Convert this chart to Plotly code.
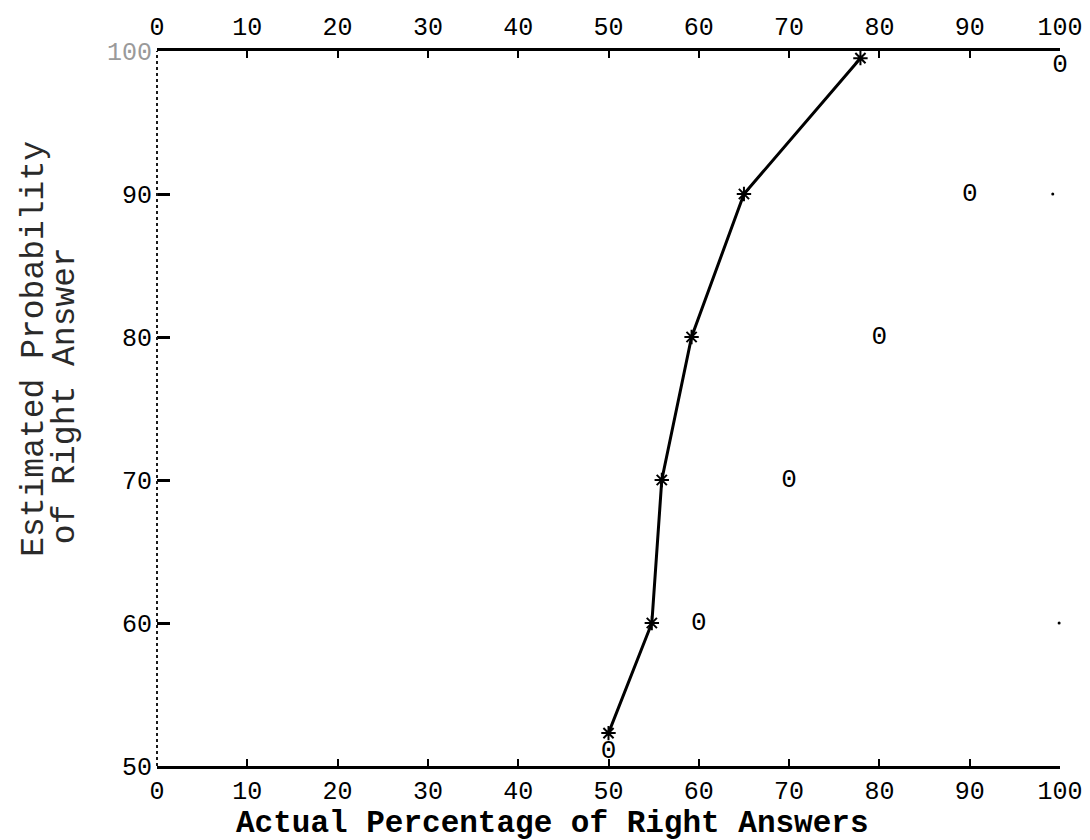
import plotly.graph_objects as go

# ---- data ----
x_ticks = [0, 10, 20, 30, 40, 50, 60, 70, 80, 90, 100]
x_tick_labels = ["0", "10", "20", "30", "40", "50", "60", "70", "80", "90", "100"]
y_ticks = [50, 60, 70, 80, 90, 100]
y_tick_labels = ["50", "60", "70", "80", "90", "<span style='color:#9a9a9a'>100</span>"]

# observed calibration curve (asterisks joined by a line)
actual_pct = [50, 54.8, 55.9, 59.2, 65.0, 77.9]
estimated_prob = [52.3, 60, 70, 80, 90, 99.5]

# perfect-calibration reference points (typed "0")
ideal_x = [50, 60, 70, 80, 90, 100]
ideal_y = [51, 60, 70, 80, 90, 99]

# stray typed periods at the right edge
dot_x = [99.2, 100.3, 99.9]
dot_y = [90, 80, 60]

FONT = "Liberation Mono"

fig = go.Figure()

fig.add_trace(go.Scatter(
    x=actual_pct, y=estimated_prob, mode="lines+markers",
    line=dict(color="black", width=3),
    marker=dict(symbol="asterisk-open", size=12, color="black",
                line=dict(color="black", width=2)),
    cliponaxis=False, showlegend=False,
))

fig.add_trace(go.Scatter(
    x=ideal_x, y=ideal_y, mode="text", text=["0"] * len(ideal_x),
    textfont=dict(family=FONT, size=26, color="black"),
    cliponaxis=False, showlegend=False,
))

fig.add_trace(go.Scatter(
    x=dot_x, y=dot_y, mode="markers",
    marker=dict(symbol="circle", size=3, color="black"),
    cliponaxis=False, showlegend=False,
))

# dummy trace for the top axis
fig.add_trace(go.Scatter(x=[0, 100], y=[100, 100], xaxis="x2", mode="lines",
                         line=dict(color="rgba(0,0,0,0)"), showlegend=False,
                         hoverinfo="skip"))

tickfont = dict(family=FONT, size=25, color="black")

fig.update_layout(
    width=1090, height=840,
    paper_bgcolor="white", plot_bgcolor="white",
    margin=dict(l=149, r=38, t=43, b=82),
    font=dict(family=FONT, color="black"),
    xaxis=dict(
        range=[0, 100], tickvals=x_ticks, ticktext=x_tick_labels,
        ticks="inside", ticklen=7, tickwidth=2, tickcolor="black",
        showline=True, linecolor="black", linewidth=3,
        showgrid=False, zeroline=False, tickfont=tickfont,
        automargin=False, mirror=False,
    ),
    xaxis2=dict(
        range=[0, 100], tickvals=x_ticks, ticktext=x_tick_labels,
        overlaying="x", side="top", anchor="y",
        ticks="inside", ticklen=7, tickwidth=2, tickcolor="black",
        showline=True, linecolor="black", linewidth=3,
        showgrid=False, zeroline=False, tickfont=tickfont,
        automargin=False, ticklabelstandoff=3,
    ),
    yaxis=dict(
        range=[50, 100], tickvals=y_ticks, ticktext=y_tick_labels,
        ticks="inside", ticklen=13, tickwidth=3, tickcolor="black",
        showline=False, showgrid=False, zeroline=False,
        tickfont=tickfont, automargin=False, ticklabelstandoff=4,
    ),
    shapes=[dict(type="line", xref="paper", yref="paper", x0=0, x1=0, y0=0, y1=1,
                 line=dict(color="#1a1a1a", width=2, dash="dot"))],
    annotations=[
        dict(text="Actual Percentage of Right Answers", xref="paper", yref="paper",
             x=0.438, y=-0.08, xanchor="center", yanchor="middle", showarrow=False,
             font=dict(family=FONT, size=31, color="black", weight="bold")),
        dict(text="Estimated Probability", xref="paper", yref="paper",
             x=-0.136, y=0.29, xanchor="center", yanchor="bottom", showarrow=False,
             textangle=-90, font=dict(family=FONT, size=33, color="#2a2a2a")),
        dict(text="of Right Answer", xref="paper", yref="paper",
             x=-0.102, y=0.308, xanchor="center", yanchor="bottom", showarrow=False,
             textangle=-90, font=dict(family=FONT, size=33, color="#2a2a2a")),
    ],
)

fig.write_html("out.html")
